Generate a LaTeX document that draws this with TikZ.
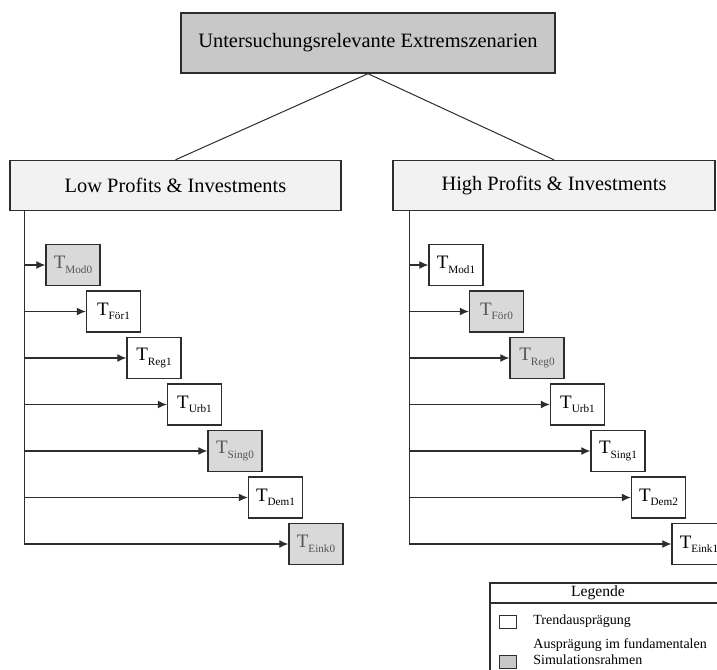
\documentclass[tikz,border=0pt]{standalone}
\usepackage{fontspec}
\setmainfont{Liberation Serif}
\usetikzlibrary{arrows.meta}

\definecolor{topgray}{RGB}{200,200,200}
\definecolor{headgray}{RGB}{242,242,242}
\definecolor{boxgray}{RGB}{217,217,217}
\definecolor{linegray}{RGB}{45,45,45}
\definecolor{textgray}{RGB}{85,85,85}

\newcommand{\Tsub}[1]{T\raisebox{-0.5ex}{\fontsize{5.6}{6}\selectfont #1}}

\tikzset{
  headbox/.style={draw=linegray, line width=0.7pt, fill=headgray, minimum height=25pt, inner sep=0pt, font=\fontsize{10.2}{12}\selectfont},
  tbox/.style={draw=linegray, line width=0.7pt, fill=white, minimum width=27pt, minimum height=20.5pt, inner sep=0pt, font=\fontsize{9.5}{11}\selectfont},
  gbox/.style={tbox, fill=boxgray, text=textgray},
  branch/.style={-{Latex[length=4.5pt,width=4pt]}, line width=0.6pt, draw=linegray},
  legtext/.style={anchor=west, inner sep=0pt, align=left, font=\fontsize{7}{8}\selectfont}
}

\begin{document}
\begin{tikzpicture}[x=0.5pt, y=-0.5pt]
    \useasboundingbox (0,0) rectangle (717,669);
    \clip (0,0) rectangle (717,669);

    % top and the two scenarios
    \node [headbox, fill=topgray, minimum width=187pt, minimum height=30pt] (top) at (368,43) {Untersuchungsrelevante Extremszenarien};
    \node [headbox, minimum width=165.5pt] (low) at (175.5,185.5) {Low Profits \& Investments};
    \node [headbox, minimum width=161pt] (high) at (554,185.5) {High Profits \& Investments};
    \draw [draw=linegray, line width=0.5pt] (top.south) -- (low.north);
    \draw [draw=linegray, line width=0.5pt] (top.south) -- (high.north);

    % low profits
    \node [gbox] (lmod) at (73,265) {\Tsub{Mod0}};
    \node [tbox] (lfor) at (113.5,311.5) {\Tsub{För1}};
    \node [tbox] (lreg) at (154,358) {\Tsub{Reg1}};
    \node [tbox] (lurb) at (194.5,404.5) {\Tsub{Urb1}};
    \node [gbox] (lsing) at (235,451) {\Tsub{Sing0}};
    \node [tbox] (ldem) at (275.5,497.5) {\Tsub{Dem1}};
    \node [gbox] (leink) at (316,544) {\Tsub{Eink0}};
    \coordinate (ltrunk) at ([xshift=7.5pt]low.south west);
    \draw [branch] (ltrunk) |- (leink.west);
    \draw [branch] (ltrunk |- lmod.west) -- (lmod.west);
    \draw [branch] (ltrunk |- lfor.west) -- (lfor.west);
    \draw [branch] (ltrunk |- lreg.west) -- (lreg.west);
    \draw [branch] (ltrunk |- lurb.west) -- (lurb.west);
    \draw [branch] (ltrunk |- lsing.west) -- (lsing.west);
    \draw [branch] (ltrunk |- ldem.west) -- (ldem.west);

    % high profits
    \node [tbox] (hmod) at (456,265) {\Tsub{Mod1}};
    \node [gbox] (hfor) at (496.5,311.5) {\Tsub{För0}};
    \node [gbox] (hreg) at (537,358) {\Tsub{Reg0}};
    \node [tbox] (hurb) at (577.5,404.5) {\Tsub{Urb1}};
    \node [tbox] (hsing) at (618,451) {\Tsub{Sing1}};
    \node [tbox] (hdem) at (658.5,497.5) {\Tsub{Dem2}};
    \node [tbox] (heink) at (699,544) {\Tsub{Eink1}};
    \coordinate (htrunk) at ([xshift=8.5pt]high.south west);
    \draw [branch] (htrunk) |- (heink.west);
    \draw [branch] (htrunk |- hmod.west) -- (hmod.west);
    \draw [branch] (htrunk |- hfor.west) -- (hfor.west);
    \draw [branch] (htrunk |- hreg.west) -- (hreg.west);
    \draw [branch] (htrunk |- hurb.west) -- (hurb.west);
    \draw [branch] (htrunk |- hsing.west) -- (hsing.west);
    \draw [branch] (htrunk |- hdem.west) -- (hdem.west);

    % legend
    \draw [draw=linegray, line width=0.7pt] (730,583) -- (490,583) -- (490,690);
    \draw [draw=linegray, line width=0.7pt] (490,603) -- (730,603);
    \node [inner sep=0pt, font=\fontsize{7.8}{9}\selectfont] (legtitle) at (598,593) {Legende};
    \node [draw=linegray, line width=0.5pt, fill=white, minimum width=8.5pt, minimum height=6.5pt, inner sep=0pt] (legwhite) at (507.5,622) {};
    \node [draw=linegray, line width=0.5pt, fill=topgray, minimum width=8.5pt, minimum height=6.5pt, inner sep=0pt] (leggray) at (507.5,662) {};
    \node [legtext] (legtrend) at (533,621) {Trendausprägung};
    \node [legtext] (legsim) at (533,652) {Ausprägung im fundamentalen\\Simulationsrahmen};
\end{tikzpicture}
\end{document}
